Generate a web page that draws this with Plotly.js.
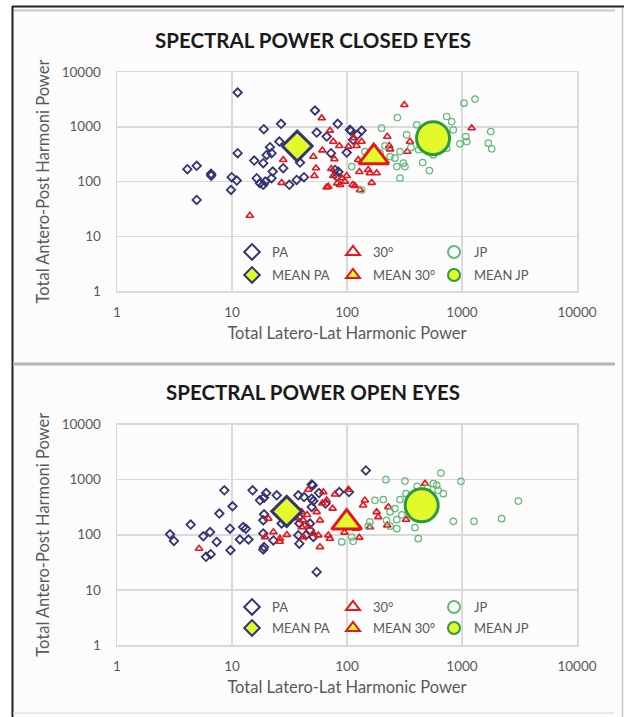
<!DOCTYPE html>
<html>
<head>
<meta charset="utf-8">
<script src="https://cdn.plot.ly/plotly-3.0.1.min.js"></script>
<style>
  html, body { margin: 0; padding: 0; background: #ffffff; }
  #chart { width: 624px; height: 717px; }
</style>
</head>
<body>
<div id="chart"></div>
<script>
// ---------------- DATA ----------------
// Panel titles
const panelTitles = ["SPECTRAL POWER CLOSED EYES", "SPECTRAL POWER OPEN EYES"];
const xAxisTitle = "Total Latero-Lat Harmonic Power";
const yAxisTitle = "Total Antero-Post Harmoni Power";
const tickValues = [1, 10, 100, 1000, 10000];
const tickLabels = ["1", "10", "100", "1000", "10000"];
const seriesNames = ["PA", "30°", "JP", "MEAN PA", "MEAN 30°", "MEAN JP"];

// ---- Closed eyes ----
const closedPA_x = [11.2, 26.7, 18.9, 52.7, 83, 108, 11.2, 4.09, 4.93, 6.57, 9.94, 11, 9.8, 4.93, 15.6, 18.7, 20, 21.4, 22.1, 25.8, 27.9, 16.4, 17.5, 18.7, 22.1, 22.6, 31.5, 36.5, 42.3, 39, 54.5, 66.6, 72.6, 99.4, 78.7, 81.7, 123, 134, 106, 113, 6.6, 19.5, 84];
const closedPA_y = [4220, 1130, 904, 1980, 1130, 841, 329, 168, 193, 138, 120, 104, 70, 46, 241, 216, 306, 424, 329, 536, 175, 115, 93, 87, 115, 152, 87, 107, 120, 222, 783, 662, 329, 337, 163, 123, 711, 853, 877, 576, 128, 100, 150];

const closed30_x = [60.3, 71.1, 76, 85.7, 27.9, 27, 14.3, 51, 53.8, 52, 66.6, 77.6, 76, 82.4, 90, 99.4, 117, 121, 125, 115, 68.8, 87, 112, 130, 164, 103, 134, 153, 158, 181, 224, 233, 237, 315, 353, 334, 1214, 73, 96, 128, 61];
const closed30_y = [1436, 853, 536, 448, 248, 95, 23.8, 285, 175, 127, 78.7, 256, 127, 93, 115, 127, 83, 448, 248, 619, 80.7, 87, 87, 70, 95, 435, 536, 163, 142, 142, 662, 448, 389, 2513, 536, 352, 943, 170, 100, 150, 372];

const closedJP_x = [1041, 1297, 274, 200, 404, 736, 813, 840, 1099, 961, 1080, 1778, 1694, 1812, 330, 289, 261, 319, 455, 520, 289, 214, 237, 563, 134, 110, 736, 194, 271, 309, 143, 360, 420, 480];
const closedJP_y = [2700, 3200, 1472, 943, 1083, 1538, 1245, 877, 536, 487, 662, 817, 501, 395, 711, 352, 267, 187, 222, 158, 115, 448, 285, 306, 70, 187, 406, 329, 187, 216, 352, 420, 380, 500];

const closedMeanPA = [36.9, 444];
const closedMean30 = [171, 278];
const closedMeanJP = [560, 619];

// ---- Open eyes ----
const openPA_x = [8.58, 15.1, 19.8, 17.5, 19, 24.5, 37.7, 49.3, 57.1, 49.3, 51, 85.7, 10.1, 7.76, 4.37, 2.89, 3.13, 5.63, 6.44, 7.36, 5.94, 6.53, 9.61, 9.7, 12.5, 13.2, 11.7, 13.9, 18.7, 19, 18.7, 22.9, 27, 38.5, 37.7, 51, 47.7, 54.5, 38.5, 38.1, 18.7, 146, 50.3, 42.3, 49.3, 44, 104, 65, 19, 47.7];
const openPA_y = [639, 639, 571, 421, 471, 519, 519, 820, 571, 452, 410, 595, 328, 242, 153, 102, 77.3, 94, 112, 74, 39.7, 44.4, 129, 52.4, 138, 129, 81.9, 81.9, 105, 60, 54, 79, 160, 69, 98, 91, 121, 21.2, 160, 210, 183, 1470, 787, 483, 319, 98, 595, 367, 235, 160];

const open30_x = [5.17, 20.7, 22.9, 26.1, 19.4, 46.1, 40.4, 41.7, 40.4, 41.7, 51, 54.5, 56.3, 58.2, 68.8, 66.6, 78.7, 103, 143, 138, 181, 187, 229, 224, 158, 128, 326, 477, 71, 62.2, 58.2, 46, 36, 45, 30, 26, 75, 120, 95, 61];
const open30_y = [56, 196, 112, 85, 91, 658, 259, 183, 138, 91, 105, 259, 98, 60, 98, 421, 541, 658, 421, 342, 259, 210, 319, 149, 138, 89, 188, 845, 85, 595, 183, 140, 200, 230, 100, 75, 300, 130, 110, 372];

const openJP_x = [218, 319, 656, 980, 3090, 2213, 1271, 840, 688, 603, 563, 408, 289, 326, 207, 175, 237, 261, 221, 271, 271, 237, 158, 153, 110, 90, 113, 390, 417, 500, 620, 350, 300];
const openJP_y = [998, 942, 1315, 930, 409, 196, 175, 175, 557, 787, 845, 755, 434, 557, 434, 421, 259, 298, 183, 188, 129, 143, 171, 143, 91, 74, 76, 135, 85, 700, 640, 300, 230];

const openMeanPA = [29.9, 266];
const openMean30 = [99.4, 166];
const openMeanJP = [446, 342];

// ---------------- STYLES ----------------
const W = 624, H = 717;
const M = {l: 117, r: 47, t: 72, b: 72};
const plotW = W - M.l - M.r, plotH = H - M.t - M.b;
const px2x = px => (px - M.l) / plotW;
const px2y = py => 1 - (py - M.t) / plotH;

const NAVY = '#34346f';
const RED = '#e8151d';
const GREEN = '#64b877';
const DGREEN = '#2c9a3d';
const LIME = '#e2f92b';
const FONT = 'Lato, "Open Sans", sans-serif';

const styles = [
  {symbol: 'diamond-open', size: 6.5, color: NAVY, line: {color: NAVY, width: 1.8}},
  {symbol: 'triangle-up-open', size: 6.5, color: RED, line: {color: RED, width: 1.6}},
  {symbol: 'circle-open', size: 6.5, color: GREEN, line: {color: GREEN, width: 1.2}},
  {symbol: 'diamond', size: 23, color: LIME, line: {color: NAVY, width: 3}},
  {symbol: 'triangle-up', size: 26, color: LIME, line: {color: RED, width: 3}},
  {symbol: 'circle', size: 33, color: LIME, line: {color: DGREEN, width: 3}}
];

function tr(xs, ys, i, ax, legendId) {
  return {
    type: 'scatter', mode: 'markers',
    x: xs, y: ys, name: seriesNames[i],
    xaxis: ax[0], yaxis: ax[1], legend: legendId,
    marker: styles[i], hoverinfo: 'x+y+name'
  };
}

const A1 = ['x', 'y'], A2 = ['x2', 'y2'];
const data = [
  tr(closedPA_x, closedPA_y, 0, A1, 'legend'),
  tr(closed30_x, closed30_y, 1, A1, 'legend'),
  tr(closedJP_x, closedJP_y, 2, A1, 'legend'),
  tr([closedMeanPA[0]], [closedMeanPA[1]], 3, A1, 'legend2'),
  tr([closedMean30[0]], [closedMean30[1]], 4, A1, 'legend2'),
  tr([closedMeanJP[0]], [closedMeanJP[1]], 5, A1, 'legend2'),
  tr(openPA_x, openPA_y, 0, A2, 'legend3'),
  tr(open30_x, open30_y, 1, A2, 'legend3'),
  tr(openJP_x, openJP_y, 2, A2, 'legend3'),
  tr([openMeanPA[0]], [openMeanPA[1]], 3, A2, 'legend4'),
  tr([openMean30[0]], [openMean30[1]], 4, A2, 'legend4'),
  tr([openMeanJP[0]], [openMeanJP[1]], 5, A2, 'legend4')
];

const gridC = '#d9d9d9';
function xax(anchor) {
  return {
    type: 'log', range: [0, 4], anchor: anchor, domain: [0, 1],
    tickvals: tickValues, ticktext: tickLabels, ticks: '',
    showgrid: true, gridcolor: gridC, gridwidth: 1.5,
    showline: true, linecolor: gridC, linewidth: 1.5, mirror: true,
    zeroline: false, ticklabelstandoff: 8,
    tickfont: {family: FONT, size: 13.5, color: '#595959'},
    title: {text: xAxisTitle, standoff: 8, font: {family: FONT, size: 16.5, color: '#595959'}}
  };
}
function yax(anchor, domain) {
  return {
    type: 'log', range: [0, 4], anchor: anchor, domain: domain,
    tickvals: tickValues, ticktext: tickLabels, ticks: '',
    showgrid: true, gridcolor: gridC, gridwidth: 1.5,
    showline: true, linecolor: gridC, linewidth: 1.5, mirror: true,
    zeroline: false, ticklabelstandoff: 12,
    tickfont: {family: FONT, size: 13.5, color: '#595959'},
    title: {text: yAxisTitle, standoff: 8, font: {family: FONT, size: 16.5, color: '#595959'}}
  };
}

function legendAt(pxLeft, pyMid) {
  return {
    orientation: 'h', x: px2x(pxLeft), xanchor: 'left', y: px2y(pyMid), yanchor: 'middle',
    entrywidth: 56, entrywidthmode: 'pixels', itemsizing: 'constant',
    bgcolor: 'rgba(0,0,0,0)', borderwidth: 0, itemclick: false, itemdoubleclick: false,
    font: {family: FONT, size: 13, color: '#595959'}
  };
}

const topY0 = px2y(291), botY1 = px2y(424.5);

const shapes = [
  // panel background
  {type: 'rect', xref: 'paper', yref: 'paper', layer: 'below', x0: px2x(13), x1: px2x(622), y0: px2y(8), y1: px2y(717), fillcolor: '#fcfcfc', line: {width: 0}},
  // outer black frame
  {type: 'line', xref: 'paper', yref: 'paper', x0: px2x(12), x1: px2x(624), y0: px2y(6.5), y1: px2y(6.5), line: {color: '#222', width: 2}},
  {type: 'line', xref: 'paper', yref: 'paper', x0: px2x(12.5), x1: px2x(12.5), y0: px2y(6), y1: px2y(717), line: {color: '#222', width: 2}},
  // gray frame lines
  {type: 'line', xref: 'paper', yref: 'paper', x0: px2x(14), x1: px2x(615), y0: px2y(10.5), y1: px2y(10.5), line: {color: '#c8c8c8', width: 2}},
  {type: 'line', xref: 'paper', yref: 'paper', x0: px2x(13), x1: px2x(615), y0: px2y(364), y1: px2y(364), line: {color: '#b4b4b4', width: 3}},
  {type: 'line', xref: 'paper', yref: 'paper', x0: px2x(13), x1: px2x(614), y0: px2y(713), y1: px2y(713), line: {color: '#e2e2e2', width: 1.5}},
  {type: 'line', xref: 'paper', yref: 'paper', x0: px2x(622.5), x1: px2x(622.5), y0: px2y(8), y1: px2y(717), line: {color: '#c4c4c4', width: 1.5}}
];

const annotations = [
  {text: '<b>' + panelTitles[0] + '</b>', xref: 'paper', yref: 'paper', x: px2x(313), y: px2y(40), xanchor: 'center', yanchor: 'middle', showarrow: false, font: {family: FONT, size: 20.5, color: '#1a1a1a'}},
  {text: '<b>' + panelTitles[1] + '</b>', xref: 'paper', yref: 'paper', x: px2x(313), y: px2y(392), xanchor: 'center', yanchor: 'middle', showarrow: false, font: {family: FONT, size: 20.5, color: '#1a1a1a'}}
];

const layout = {
  width: W, height: H, margin: M, autosize: false,
  paper_bgcolor: '#ffffff', plot_bgcolor: 'rgba(0,0,0,0)',
  font: {family: FONT},
  showlegend: true,
  xaxis: xax('y'), yaxis: yax('x', [topY0, 1]),
  xaxis2: xax('y2'), yaxis2: yax('x2', [0, botY1]),
  legend: legendAt(232, 252),
  legend2: legendAt(232, 275),
  legend3: legendAt(232, 607),
  legend4: legendAt(232, 628),
  shapes: shapes,
  annotations: annotations
};

Plotly.newPlot('chart', data, layout, {staticPlot: true, displayModeBar: false});
</script>
</body>
</html>
